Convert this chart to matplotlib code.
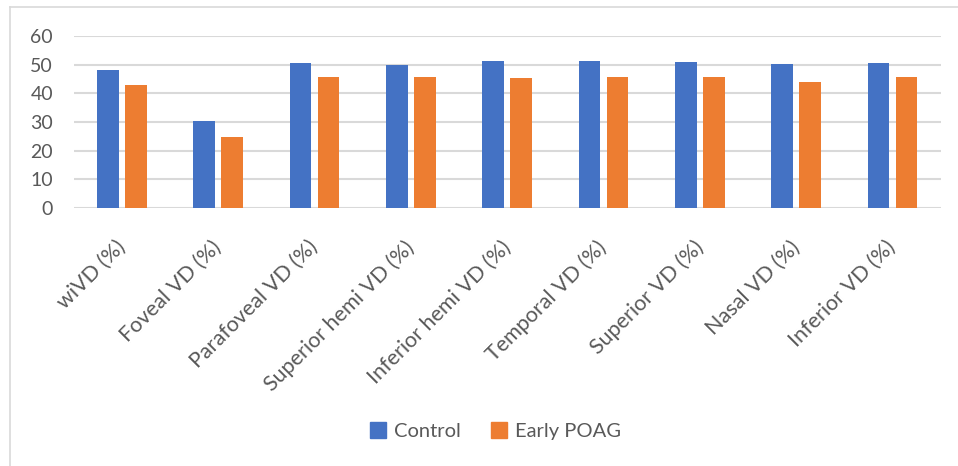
import numpy as np
import matplotlib
matplotlib.use("Agg")
import matplotlib.pyplot as plt
from matplotlib.lines import Line2D

plt.rcParams['font.family'] = ['Lato', 'DejaVu Sans']

# data
categories = ['wiVD (%)', 'Foveal VD (%)', 'Parafoveal VD (%)', 'Superior hemi VD (%)',
              'Inferior hemi VD (%)', 'Temporal VD (%)', 'Superior VD (%)',
              'Nasal VD (%)', 'Inferior VD (%)']
control = [48.0, 30.3, 50.4, 50.0, 51.1, 51.3, 50.9, 50.1, 50.6]
early_poag = [42.7, 24.8, 45.5, 45.5, 45.4, 45.8, 45.8, 44.0, 45.7]
yticks = [0, 10, 20, 30, 40, 50, 60]

blue = '#4472C4'
orange = '#ED7D31'
txt = '#595959'

fig = plt.figure(figsize=(9.58, 4.66), dpi=100)
ax = fig.add_axes([0.077, 0.554, 0.905, 0.369])

x = np.arange(len(categories))
w = 0.225
ax.bar(x - 0.145, control, w, color=blue, label='Control', zorder=3)
ax.bar(x + 0.145, early_poag, w, color=orange, label='Early POAG', zorder=3)

ax.set_xlim(-0.5, len(categories) - 0.5)
ax.set_ylim(0, 60)
ax.set_yticks(yticks)
ax.yaxis.grid(True, color='#D9D9D9', linewidth=1.5, zorder=0)
for s in ax.spines.values():
    s.set_visible(False)
ax.tick_params(axis='both', length=0, labelsize=14, colors=txt)
ax.tick_params(axis='y', pad=15)
ax.tick_params(axis='x', pad=26)
ax.set_xticks(x)
ax.set_xticklabels(categories, rotation=45, ha='right', va='center',
                   rotation_mode='anchor', fontsize=15.5)
for lab in ax.get_xticklabels():
    lab.set_color(txt)

# legend at the bottom
handles = [plt.Rectangle((0, 0), 1, 1, color=blue),
           plt.Rectangle((0, 0), 1, 1, color=orange)]
fig.legend(handles, ['Control', 'Early POAG'], loc='center',
           bbox_to_anchor=(0.517, 1 - 431 / 466), ncol=2, frameon=False,
           fontsize=14.5, labelcolor=txt, handlelength=0.8, handleheight=0.8,
           handletextpad=0.4, columnspacing=1.5)

# light frame round the chart (top and left edges visible)
fig.add_artist(Line2D([10 / 958, 1], [1 - 7 / 466, 1 - 7 / 466],
                      color='#D9D9D9', linewidth=1.2))
fig.add_artist(Line2D([10 / 958, 10 / 958], [0, 1 - 7 / 466],
                      color='#D9D9D9', linewidth=1.2))

fig.savefig('out.png', dpi=100)
